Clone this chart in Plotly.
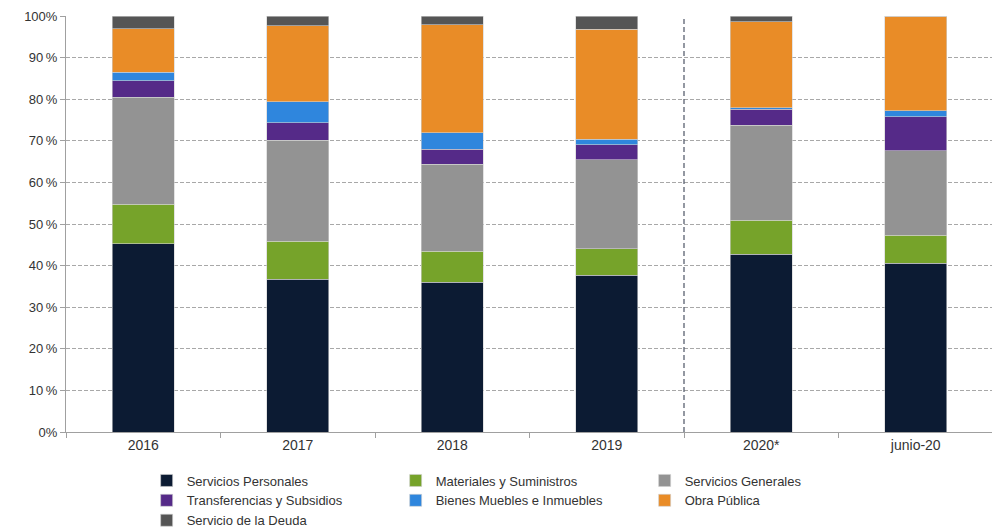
import plotly.graph_objects as go

# Categorías y participación porcentual de cada concepto de gasto
periodos = ["2016", "2017", "2018", "2019", "2020*", "junio-20"]

servicios_personales = [45.2, 36.7, 36.0, 37.7, 42.7, 40.6]
materiales_suministros = [9.6, 9.2, 7.4, 6.4, 8.2, 6.7]
servicios_generales = [25.7, 24.2, 21.0, 21.4, 22.8, 20.3]
transferencias_subsidios = [3.9, 4.3, 3.6, 3.6, 3.9, 8.2]
bienes_muebles = [2.1, 5.0, 3.9, 1.3, 0.4, 1.4]
obra_publica = [10.4, 18.2, 26.0, 26.4, 20.6, 22.8]
servicio_deuda = [3.1, 2.4, 2.1, 3.2, 1.4, 0.0]

tick_vals = [0, 10, 20, 30, 40, 50, 60, 70, 80, 90, 100]
tick_text = ["0%", "10\u2009%", "20\u2009%", "30\u2009%", "40\u2009%", "50\u2009%",
             "60\u2009%", "70\u2009%", "80\u2009%", "90\u2009%", "100%"]

series = [
    ("Servicios Personales", servicios_personales, "#0C1B33"),
    ("Materiales y Suministros", materiales_suministros, "#76A32A"),
    ("Servicios Generales", servicios_generales, "#939393"),
    ("Transferencias y Subsidios", transferencias_subsidios, "#552A88"),
    ("Bienes Muebles e Inmuebles", bienes_muebles, "#2F86DD"),
    ("Obra Pública", obra_publica, "#E98C27"),
    ("Servicio de la Deuda", servicio_deuda, "#555555"),
]

fuente = "Liberation Sans, Arial, sans-serif"

fig = go.Figure()
for nombre, valores, color in series:
    fig.add_trace(go.Bar(
        x=periodos, y=valores, name=nombre,
        marker=dict(color=color, line=dict(color="#D0D0D0", width=0.6)),
    ))

# línea vertical punteada que separa 2020*
fig.add_shape(type="line", x0=3.5, x1=3.5, xref="x", y0=0, y1=1, yref="paper",
              line=dict(color="#5A6170", width=1.3, dash="5px,3px"))

# la página deja 8 px de margen en el body, se descuentan aquí
fig.update_layout(
    barmode="stack",
    bargap=0.6,
    width=992, height=521,
    margin=dict(l=58, r=7, t=8, b=97, autoexpand=False),
    plot_bgcolor="white",
    paper_bgcolor="white",
    font=dict(family=fuente, size=13, color="#333333"),
    legend=dict(
        orientation="h", x=0.087, xanchor="left", y=-0.0805, yanchor="top",
        traceorder="normal",
        entrywidth=204, entrywidthmode="pixels",
        itemwidth=30,
        font=dict(size=13, color="#333333"),
        tracegroupgap=0,
    ),
)
fig.update_yaxes(
    range=[0, 100], tickvals=tick_vals, ticktext=tick_text,
    showgrid=True, gridcolor="#A8A8A8", griddash="4px,2px", gridwidth=1,
    showline=True, linecolor="#A0A0A0", linewidth=1,
    ticks="outside", ticklen=5, tickcolor="#A0A0A0",
    zeroline=False, automargin=False,
    tickfont=dict(size=13),
)
fig.update_xaxes(
    showline=True, linecolor="#A0A0A0", linewidth=1,
    ticks="outside", ticklen=5, tickcolor="#A0A0A0", tickson="boundaries",
    tickfont=dict(size=14), automargin=False,
)

fig.write_html("out.html")
